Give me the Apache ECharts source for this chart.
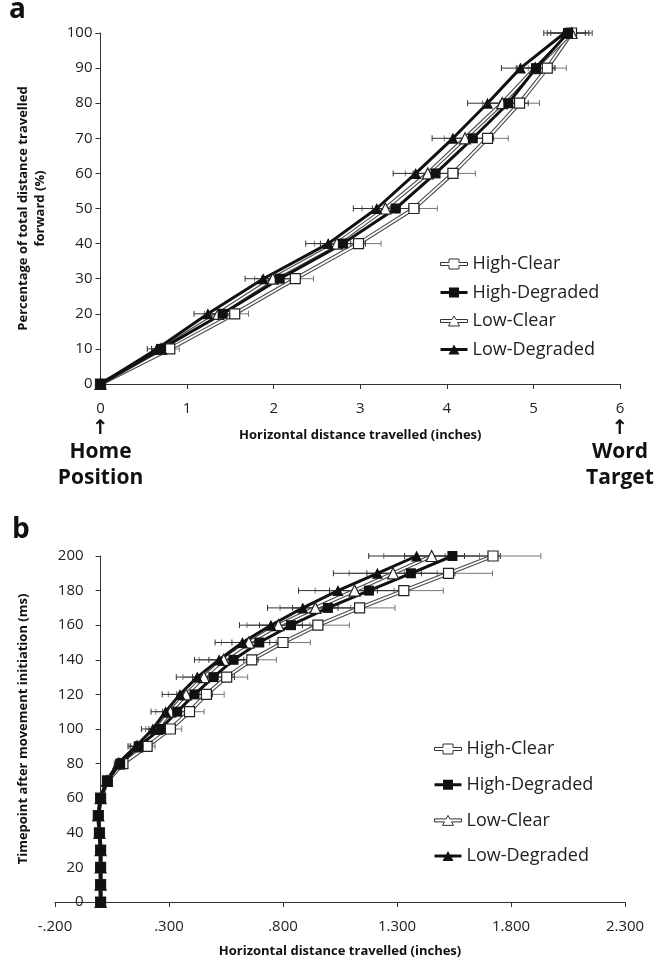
<!DOCTYPE html>
<html>
<head>
<meta charset="utf-8">
<script src="https://cdn.jsdelivr.net/npm/echarts@6/dist/echarts.min.js"></script>
<style>
  html, body { margin: 0; padding: 0; background: #fff; }
  #main { width: 664px; height: 963px; }
</style>
</head>
<body>
<div id="main"></div>
<script>
// ---- panel a: % of distance travelled forward (y) vs horizontal distance (x, inches)
var pctA = [0, 10, 20, 30, 40, 50, 60, 70, 80, 90, 100];
var hcA = [0, 0.80, 1.55, 2.25, 2.98, 3.62, 4.07, 4.47, 4.84, 5.16, 5.44];
var hdA = [0, 0.70, 1.41, 2.07, 2.80, 3.41, 3.87, 4.30, 4.71, 5.03, 5.40];
var lcA = [0, 0.70, 1.36, 1.99, 2.73, 3.29, 3.78, 4.21, 4.64, 5.02, 5.44];
var ldA = [0, 0.65, 1.24, 1.88, 2.63, 3.19, 3.64, 4.07, 4.47, 4.85, 5.36];
var errA = [0, 0.11, 0.16, 0.21, 0.26, 0.27, 0.26, 0.24, 0.23, 0.22, 0.24];

// ---- panel b: timepoint (ms) vs horizontal distance (inches)
var msB = [0, 10, 20, 30, 40, 50, 60, 70, 80, 90, 100, 110, 120, 130, 140, 150, 160, 170, 180, 190, 200];
var hcB = [0, 0, 0, 0, -0.005, -0.01, 0, 0.030, 0.098, 0.204, 0.306, 0.390, 0.464, 0.553, 0.663, 0.800, 0.953, 1.136, 1.330, 1.526, 1.721];
var hdB = [0, 0, 0, 0, -0.005, -0.01, 0, 0.028, 0.086, 0.167, 0.262, 0.336, 0.412, 0.495, 0.583, 0.696, 0.835, 0.997, 1.177, 1.361, 1.543];
var lcB = [0, 0, 0, 0, -0.005, -0.01, 0, 0.028, 0.080, 0.160, 0.248, 0.306, 0.375, 0.453, 0.540, 0.650, 0.780, 0.942, 1.114, 1.283, 1.452];
var ldB = [0, 0, 0, 0, -0.005, -0.01, 0, 0.028, 0.075, 0.155, 0.229, 0.285, 0.348, 0.424, 0.520, 0.622, 0.747, 0.887, 1.041, 1.214, 1.386];
var errB = [0, 0, 0, 0, 0, 0, 0, 0.005, 0.015, 0.035, 0.050, 0.064, 0.078, 0.092, 0.108, 0.120, 0.138, 0.155, 0.173, 0.193, 0.210];
var ticksB = [-0.2, 0.3, 0.8, 1.3, 1.8, 2.3];

var names = ['High-Clear', 'High-Degraded', 'Low-Clear', 'Low-Degraded'];
var FONT = "'Open Sans', 'DejaVu Sans', sans-serif";

var sqPath = 'path://M0,3.5 H8.5 V0 H18.5 V3.5 H27 V6.5 H18.5 V10 H8.5 V6.5 H0 Z';
var triPath = 'path://M0,3.5 H11.575 L13.5,0 L15.425,3.5 H27 V6.5 H17.075 L19,10 H8 L9.925,6.5 H0 Z';

// panel b grid; its y axis stands at x = 0, inside the grid
var gridB = { left: 55, top: 556, width: 570, height: 346 };
var xMinB = -0.2, xMaxB = 2.3;
var yOffB = gridB.width * (0 - xMinB) / (xMaxB - xMinB);

function pairs(xs, ys) {
    var out = [];
    for (var i = 0; i < xs.length; i++) out.push([xs[i], ys[i]]);
    return out;
}
function errRows(xs, ys, es) {
    var out = [];
    for (var i = 0; i < xs.length; i++) out.push([xs[i], ys[i], es[i]]);
    return out;
}

function errSeries(idx, xs, ys, es, color) {
    return {
        type: 'custom', xAxisIndex: idx, yAxisIndex: idx, z: 1, silent: true,
        encode: { x: 0, y: 1 },
        data: errRows(xs, ys, es),
        renderItem: function (params, api) {
            var x = api.value(0), y = api.value(1), e = api.value(2);
            if (!e) return null;
            var p1 = api.coord([x - e, y]);
            var p2 = api.coord([x + e, y]);
            var st = { stroke: color, lineWidth: 1 };
            return {
                type: 'group',
                children: [
                    { type: 'line', shape: { x1: p1[0], y1: p1[1], x2: p2[0], y2: p2[1] }, style: st },
                    { type: 'line', shape: { x1: p1[0], y1: p1[1] - 3, x2: p1[0], y2: p1[1] + 3 }, style: st },
                    { type: 'line', shape: { x1: p2[0], y1: p2[1] - 3, x2: p2[0], y2: p2[1] + 3 }, style: st }
                ]
            };
        }
    };
}

// "clear" conditions: double line (dark outline + white core), open markers
function clearSeries(idx, name, xs, ys, sym, size) {
    return [{
        name: name + ' outline', type: 'line', xAxisIndex: idx, yAxisIndex: idx, z: 2,
        data: pairs(xs, ys), showSymbol: false, silent: true,
        lineStyle: { color: '#4a4a4a', width: 4 }
    }, {
        name: name, type: 'line', xAxisIndex: idx, yAxisIndex: idx, z: 2,
        data: pairs(xs, ys), symbol: sym, symbolSize: size, showAllSymbol: true,
        lineStyle: { color: '#fff', width: 1.8 },
        itemStyle: { color: '#fff', borderColor: '#222', borderWidth: 1.2 }
    }];
}
function degSeries(idx, name, xs, ys, sym, size) {
    return [{
        name: name, type: 'line', xAxisIndex: idx, yAxisIndex: idx, z: 2,
        data: pairs(xs, ys), symbol: sym, symbolSize: size, showAllSymbol: true,
        lineStyle: { color: '#111', width: 3 },
        itemStyle: { color: '#111', borderColor: '#111', borderWidth: 0 }
    }];
}

function legendFor(left, top, gap) {
    return {
        orient: 'vertical', left: left, top: top, padding: 0,
        itemWidth: 27, itemHeight: 10, itemGap: gap,
        textStyle: { fontFamily: FONT, fontSize: 18, color: '#222', lineHeight: 20 },
        data: [
            { name: names[0], icon: sqPath, itemStyle: { color: '#fff', borderColor: '#333', borderWidth: 1 } },
            { name: names[1], icon: sqPath, itemStyle: { color: '#111', borderColor: '#111', borderWidth: 0 } },
            { name: names[2], icon: triPath, itemStyle: { color: '#fff', borderColor: '#333', borderWidth: 1 } },
            { name: names[3], icon: triPath, itemStyle: { color: '#111', borderColor: '#111', borderWidth: 0 } }
        ]
    };
}

var axisLine = { onZero: false, lineStyle: { color: '#333', width: 1 } };
var tickStyle = { length: 5, lineStyle: { color: '#333' } };
var nameStyle = { fontFamily: FONT, fontSize: 13, fontWeight: 'bold', color: '#111' };

var chart = echarts.init(document.getElementById('main'), null, { renderer: 'canvas' });

var series = [].concat(
    errSeries(0, hcA, pctA, errA, '#777'),
    errSeries(0, lcA, pctA, errA, '#777'),
    errSeries(0, ldA, pctA, errA, '#333'),
    errSeries(0, hdA, pctA, errA, '#333'),
    clearSeries(0, names[0], hcA, pctA, 'rect', 10),
    clearSeries(0, names[2], lcA, pctA, 'triangle', 11),
    degSeries(0, names[3], ldA, pctA, 'triangle', 11),
    degSeries(0, names[1], hdA, pctA, 'rect', 10),

    errSeries(1, hcB, msB, errB, '#777'),
    errSeries(1, lcB, msB, errB, '#777'),
    errSeries(1, ldB, msB, errB, '#333'),
    errSeries(1, hdB, msB, errB, '#333'),
    clearSeries(1, names[0], hcB, msB, 'rect', 10),
    clearSeries(1, names[2], lcB, msB, 'triangle', 11),
    degSeries(1, names[3], ldB, msB, 'triangle', 11),
    degSeries(1, names[1], hdB, msB, 'rect', 10)
);

var option = {
    animation: false,
    backgroundColor: '#fff',
    textStyle: { fontFamily: FONT },
    graphic: [
        { type: 'text', left: 9, top: -4, style: { text: 'a', font: 'bold 28px ' + FONT, fill: '#111' } },
        { type: 'text', left: 12, top: 516, style: { text: 'b', font: 'bold 28px ' + FONT, fill: '#111' } }
    ],
    legend: [legendFor(440, 254, 8.5), legendFor(434, 739, 15.7)],
    grid: [
        { left: 100.5, top: 33, width: 519.5, height: 351, outerBoundsMode: 'none' },
        { left: gridB.left, top: gridB.top, width: gridB.width, height: gridB.height, outerBoundsMode: 'none' }
    ],
    xAxis: [{
        gridIndex: 0, type: 'value', min: 0, max: 6, interval: 1,
        name: 'Horizontal distance travelled (inches)', nameLocation: 'middle', nameGap: 45,
        nameMoveOverlap: false, nameTextStyle: nameStyle,
        axisLine: axisLine, axisTick: tickStyle, splitLine: { show: false },
        axisLabel: {
            margin: 15, showMaxLabel: true, showMinLabel: true,
            formatter: function (v) {
                if (v === 0) return '{n|0}\n{ar|↑}\n{big|Home}\n{big|Position}';
                if (v === 6) return '{n|6}\n{ar|↑}\n{big|Word}\n{big|Target}';
                return '{n|' + v + '}';
            },
            rich: {
                n: { fontFamily: FONT, fontSize: 15, color: '#222', lineHeight: 20 },
                ar: { fontFamily: "'DejaVu Sans', sans-serif", fontSize: 20, fontWeight: 'bold', color: '#111', lineHeight: 20 },
                big: { fontFamily: FONT, fontSize: 21, fontWeight: 'bold', color: '#111', lineHeight: 26 }
            }
        }
    }, {
        gridIndex: 1, type: 'value', min: xMinB, max: xMaxB,
        name: 'Horizontal distance travelled (inches)', nameLocation: 'middle', nameGap: 43,
        nameMoveOverlap: false, nameTextStyle: nameStyle,
        axisLine: axisLine,
        axisTick: { length: 5, lineStyle: { color: '#333' }, customValues: ticksB },
        splitLine: { show: false },
        axisLabel: {
            margin: 17, fontFamily: FONT, fontSize: 15, color: '#222', customValues: ticksB,
            formatter: function (v) {
                var s = Math.abs(v).toFixed(3);
                if (s.charAt(0) === '0') s = s.slice(1);
                return (v < 0 ? '-' : '') + s;
            }
        }
    }],
    yAxis: [{
        gridIndex: 0, type: 'value', min: 0, max: 100, interval: 10,
        name: 'Percentage of total distance travelled\nforward (%)', nameLocation: 'middle', nameGap: 52,
        nameMoveOverlap: false,
        nameTextStyle: { fontFamily: FONT, fontSize: 13, fontWeight: 'bold', color: '#111', lineHeight: 17 },
        axisLine: axisLine, axisTick: tickStyle, splitLine: { show: false },
        axisLabel: { margin: 8, fontFamily: FONT, fontSize: 15, color: '#222' }
    }, {
        gridIndex: 1, type: 'value', min: 0, max: 200, interval: 20, position: 'left',
        offset: -yOffB,
        axisLine: axisLine,
        axisTick: tickStyle, splitLine: { show: false },
        axisLabel: { margin: 17, fontFamily: FONT, fontSize: 15, color: '#222' }
    }, {
        // carries only the title of panel b, at the grid's left edge
        gridIndex: 1, type: 'value', min: 0, max: 200, position: 'left',
        name: 'Timepoint after movement initiation (ms)', nameLocation: 'middle', nameGap: 25,
        nameMoveOverlap: false, nameTextStyle: nameStyle,
        axisLine: { show: false, onZero: false }, axisTick: { show: false },
        axisLabel: { show: false }, splitLine: { show: false }
    }],
    series: series
};

chart.setOption(option);
window.addEventListener('resize', function () {
    chart.resize();
});
</script>
</body>
</html>
